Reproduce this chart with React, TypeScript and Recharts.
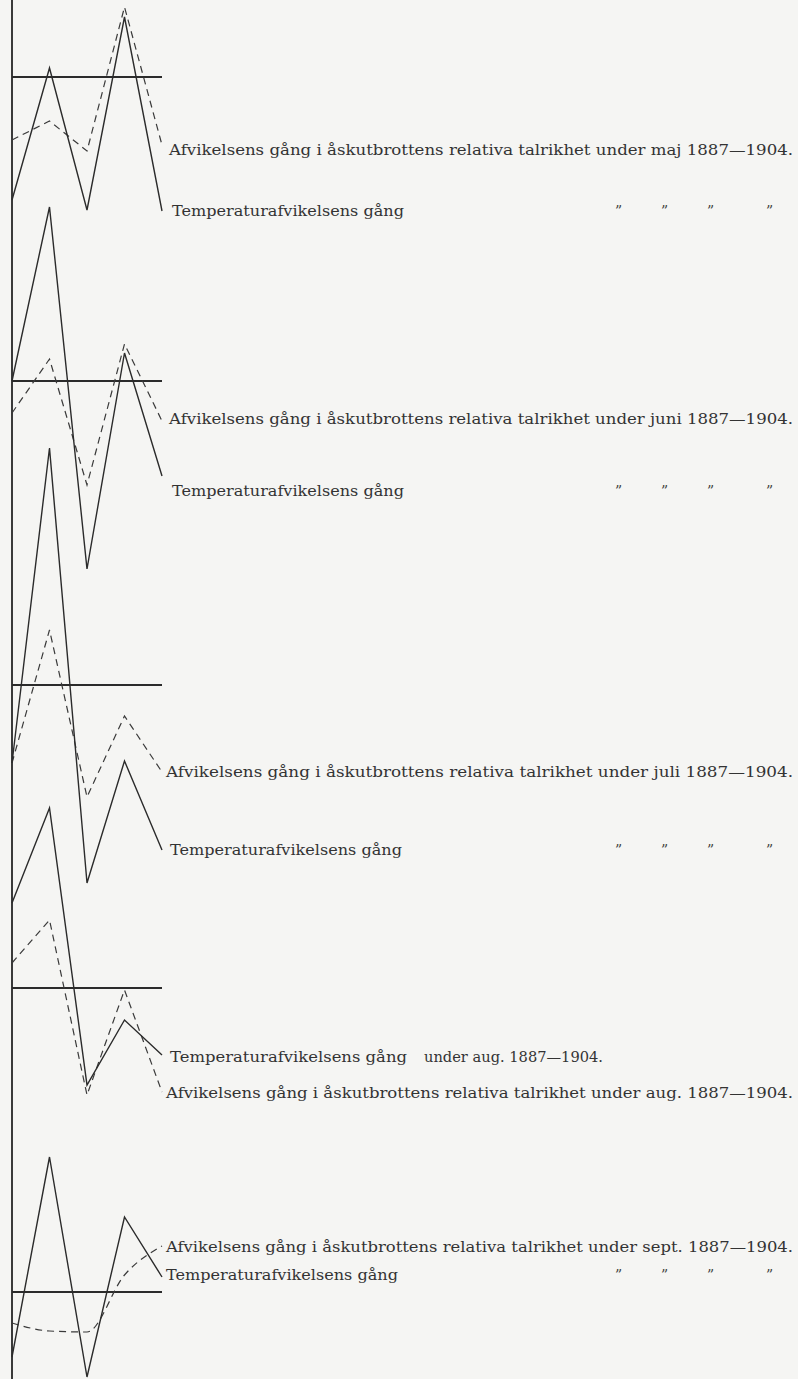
import { LineChart, Line, XAxis, YAxis, ReferenceLine } from 'recharts'

// five readings per month, deviations from the mean (1 unit = 10 px in the plate)
const points = ['1', '2', '3', '4', '5']

const majTemp = [-12.3, 0.9, -13.3, 6.0, -13.4]
const majThunder = [-6.3, -4.4, -7.4, 7.0, -6.8]

const juniTemp = [0, 17.4, -18.8, 2.8, -9.5]
const juniThunder = [-3.2, 2.2, -10.4, 3.7, -4.0]

const juliTemp = [-7.8, 23.7, -19.8, -7.6, -16.5]
const juliThunder = [-7.8, 5.5, -11.2, -3.1, -8.7]

const augTemp = [8.5, 18.0, -9.7, -3.2, -6.7]
const augThunder = [2.5, 6.8, -10.7, -0.2, -10.4]

const septTemp = [-6.5, 13.5, -8.5, 7.5, 1.5]
const septThunder = [-3.1, -3.9, -4.0, 1.7, 4.6]

const K = 10
const INK = '#2b2b2b'
const SERIF = '"DejaVu Serif", "Liberation Serif", serif'

interface PanelProps {
  temp: number[]
  thunder: number[]
  baseline: number
  domain: [number, number]
  curvedThunder?: boolean
}

function Panel({ temp, thunder, baseline, domain, curvedThunder }: PanelProps) {
  const data = points.map((p, i) => ({ p, temp: temp[i], thunder: thunder[i] }))
  const [lo, hi] = domain
  const top = baseline - hi * K
  const height = (hi - lo) * K
  return (
    <div style={{ position: 'absolute', left: 10, top, width: 154, height }}>
      <LineChart width={154} height={height} data={data} margin={{ top: 0, right: 2, bottom: 0, left: 2 }}>
        <XAxis dataKey="p" hide padding={{ left: 0, right: 0 }} />
        <YAxis hide domain={domain} type="number" />
        <ReferenceLine y={0} stroke={INK} strokeWidth={1.8} />
        <Line
          dataKey="thunder"
          type={curvedThunder ? 'monotone' : 'linear'}
          stroke="#3a3a3a"
          strokeWidth={1.2}
          strokeDasharray="7 5"
          dot={false}
          isAnimationActive={false}
        />
        <Line
          dataKey="temp"
          type="linear"
          stroke={INK}
          strokeWidth={1.4}
          dot={false}
          isAnimationActive={false}
        />
      </LineChart>
    </div>
  )
}

function Label({ x, y, x2, text }: { x: number; y: number; x2: number; text: string }) {
  return (
    <text x={x} y={y + 5} textLength={x2 - x} lengthAdjust="spacingAndGlyphs" fontSize={15} fill="#333" fontFamily={SERIF}>
      {text}
    </text>
  )
}

function Ditto({ y }: { y: number }) {
  return (
    <>
      {[615, 661, 707, 766].map((x) => (
        <text key={x} x={x} y={y + 5} fontSize={14} fill="#444" fontFamily={SERIF}>
          ”
        </text>
      ))}
    </>
  )
}

const afv = (month: string) => `Afvikelsens gång i åskutbrottens relativa talrikhet under ${month} 1887—1904.`
const tempText = 'Temperaturafvikelsens gång'

export default function App() {
  return (
    <div style={{ position: 'absolute', left: 0, top: 0, width: 798, height: 1379, background: '#f5f5f3', overflow: 'hidden' }}>
      <div style={{ position: 'absolute', left: 11, top: 0, width: 1.5, height: 1379, background: '#3a3a3a' }} />

      <Panel temp={majTemp} thunder={majThunder} baseline={76.7} domain={[-14, 8]} />
      <Panel temp={juniTemp} thunder={juniThunder} baseline={380.5} domain={[-20, 18]} />
      <Panel temp={juliTemp} thunder={juliThunder} baseline={685} domain={[-21, 25]} />
      <Panel temp={augTemp} thunder={augThunder} baseline={988} domain={[-12, 19]} />
      <Panel temp={septTemp} thunder={septThunder} baseline={1292} domain={[-9, 14]} curvedThunder />

      <svg width={798} height={1379} style={{ position: 'absolute', left: 0, top: 0 }}>
        <Label x={169} y={150} x2={793} text={afv('maj ')} />
        <Label x={172} y={211} x2={404} text={tempText} />
        <Ditto y={211} />

        <Label x={169} y={419} x2={793} text={afv('juni')} />
        <Label x={172} y={491} x2={404} text={tempText} />
        <Ditto y={491} />

        <Label x={166} y={772} x2={793} text={afv('juli ')} />
        <Label x={170} y={850} x2={402} text={tempText} />
        <Ditto y={850} />

        <Label x={170} y={1057} x2={407} text={tempText} />
        <Label x={424} y={1057} x2={603} text="under aug. 1887—1904." />
        <Label x={166} y={1093} x2={793} text={afv('aug.')} />

        <Label x={166} y={1247} x2={793} text={afv('sept.')} />
        <Label x={166} y={1275} x2={398} text={tempText} />
        <Ditto y={1275} />
      </svg>
    </div>
  )
}
